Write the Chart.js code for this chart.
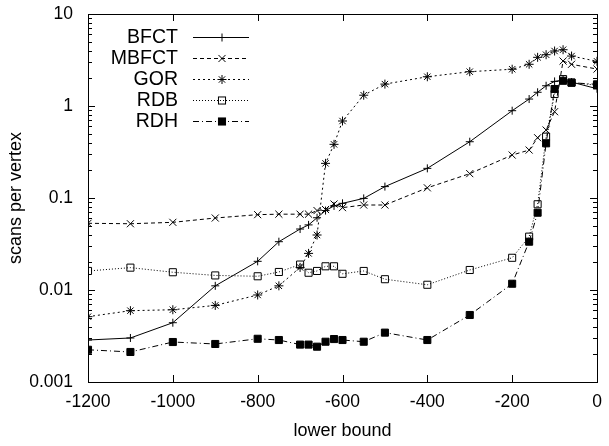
<!DOCTYPE html>
<html>
<head>
<meta charset="utf-8">
<script src="https://cdn.jsdelivr.net/npm/chart.js@4.4.0/dist/chart.umd.min.js"></script>
<style>
  body { margin: 0; background: #fff; }
  canvas { display: block; }
</style>
</head>
<body>
<canvas id="chart" width="609" height="446"></canvas>
<script>
// x positions shared by every series
const lowerBounds = [-1200, -1100, -1000, -900, -800, -750, -700, -680, -660, -640, -620, -600,
  -550, -500, -400, -300, -200, -160, -140, -120, -100, -80, -60, 0]

const bfct = [0.00286, 0.00301, 0.00441, 0.0111, 0.0205, 0.0335, 0.046, 0.051, 0.061, 0.073, 0.082, 0.0875,
  0.099, 0.133, 0.21, 0.409, 0.889, 1.19, 1.41, 1.66, 1.85, 1.92, 1.82, 1.54]
const mbfct = [0.0531, 0.0525, 0.0544, 0.0606, 0.0659, 0.0667, 0.0667, 0.0667, 0.073, 0.075, 0.086, 0.0786,
  0.0839, 0.0839, 0.129, 0.184, 0.293, 0.332, 0.452, 0.548, 0.867, 3.08, 2.84, 2.52]
const gor = [0.00513, 0.00596, 0.0061, 0.0068, 0.00883, 0.0111, 0.0176, 0.025, 0.0396, 0.238, 0.383, 0.687,
  1.31, 1.73, 2.08, 2.36, 2.51, 2.84, 3.38, 3.61, 3.96, 4.09, 3.49, 3.06]
const rdb = [0.0161, 0.0175, 0.0156, 0.0144, 0.0141, 0.0157, 0.0189, 0.0154, 0.0161, 0.0181, 0.0181, 0.015,
  0.0161, 0.0131, 0.0114, 0.0165, 0.0224, 0.038, 0.0855, 0.464, 1.35, 1.96, 1.8, 1.68]
const rdh = [0.00224, 0.00212, 0.00272, 0.00259, 0.00295, 0.00286, 0.00255, 0.00255, 0.00242, 0.00274, 0.00293, 0.00286,
  0.00274, 0.00344, 0.00286, 0.00535, 0.0117, 0.0335, 0.0692, 0.393, 1.53, 1.88, 1.79, 1.72]

const xTicks = [-1200, -1000, -800, -600, -400, -200, 0]
const yTicks = [0.001, 0.01, 0.1, 1, 10]
const yTickLabels = ["0.001", "0.01", "0.1", "1", "10"]

const FONT = "'Liberation Sans', Arial, Helvetica, sans-serif"

function series(label, values, dash, style, radius, fill) {
  return {
    label: label,
    data: lowerBounds.map((x, i) => ({ x: x, y: values[i] })),
    borderColor: "#000",
    borderWidth: 1,
    borderDash: dash,
    pointStyle: style,
    pointRadius: radius,
    pointBorderColor: "#000",
    pointBorderWidth: 1,
    pointBackgroundColor: fill,
    tension: 0
  }
}

const datasets = [
  series("BFCT", bfct, [], "cross", 4, "#000"),
  series("MBFCT", mbfct, [4, 3], "crossRot", 5, "#000"),
  series("GOR", gor, [2, 3], "star", 4.5, "#000"),
  series("RDB", rdb, [1, 2], "rect", 5, "rgba(0,0,0,0)"),
  series("RDH", rdh, [6, 3, 1, 3], "rect", 5, "#000")
]

// small marker painter for the legend samples
function drawMarker(ctx, style, x, y, r, fill) {
  ctx.save()
  ctx.setLineDash([])
  ctx.strokeStyle = "#000"
  ctx.lineWidth = 1
  ctx.beginPath()
  if (style === "cross" || style === "star") {
    ctx.moveTo(x - r, y); ctx.lineTo(x + r, y)
    ctx.moveTo(x, y - r); ctx.lineTo(x, y + r)
  }
  if (style === "crossRot" || style === "star") {
    const d = r * Math.SQRT1_2
    ctx.moveTo(x - d, y - d); ctx.lineTo(x + d, y + d)
    ctx.moveTo(x - d, y + d); ctx.lineTo(x + d, y - d)
  }
  ctx.stroke()
  if (style === "rect") {
    const s = r * Math.SQRT1_2
    if (fill !== "rgba(0,0,0,0)") {
      ctx.fillStyle = fill
      ctx.fillRect(x - s, y - s, 2 * s, 2 * s)
    }
    ctx.strokeRect(x - s, y - s, 2 * s, 2 * s)
  }
  ctx.restore()
}

// frame and inward gnuplot-style ticks
const framePlugin = {
  id: "frame",
  beforeDatasetsDraw(chart) {
    const ctx = chart.ctx
    const a = chart.chartArea
    const xs = chart.scales.x
    const ys = chart.scales.y
    ctx.save()
    ctx.strokeStyle = "#000"
    ctx.lineWidth = 1
    ctx.beginPath()
    xTicks.forEach((v) => {
      const px = Math.round(xs.getPixelForValue(v)) + 0.5
      ctx.moveTo(px, a.bottom); ctx.lineTo(px, a.bottom - 7)
      ctx.moveTo(px, a.top); ctx.lineTo(px, a.top + 7)
    })
    for (let e = -3; e <= 0; e++) {
      for (let m = 1; m <= 9; m++) {
        const v = m * Math.pow(10, e)
        const py = Math.round(ys.getPixelForValue(v)) + 0.5
        const len = m === 1 ? 7 : 4
        ctx.moveTo(a.left, py); ctx.lineTo(a.left + len, py)
        ctx.moveTo(a.right, py); ctx.lineTo(a.right - len, py)
      }
    }
    const pyTop = Math.round(ys.getPixelForValue(10)) + 0.5
    ctx.moveTo(a.left, pyTop); ctx.lineTo(a.left + 7, pyTop)
    ctx.moveTo(a.right, pyTop); ctx.lineTo(a.right - 7, pyTop)
    ctx.stroke()
    ctx.strokeRect(Math.round(a.left) + 0.5, Math.round(a.top) + 0.5,
      Math.round(a.right - a.left), Math.round(a.bottom - a.top))
    ctx.restore()
  }
}

const legendPlugin = {
  id: "sampleLegend",
  afterDatasetsDraw(chart) {
    const ctx = chart.ctx
    ctx.save()
    ctx.font = "19.5px " + FONT
    ctx.textAlign = "right"
    ctx.textBaseline = "middle"
    chart.data.datasets.forEach((ds, i) => {
      const y = 37 + i * 21
      ctx.fillStyle = "#000"
      ctx.fillText(ds.label, 178, y + 1)
      ctx.strokeStyle = "#000"
      ctx.lineWidth = 1
      ctx.setLineDash(ds.borderDash)
      ctx.beginPath()
      ctx.moveTo(193, y + 0.5)
      ctx.lineTo(249, y + 0.5)
      ctx.stroke()
      drawMarker(ctx, ds.pointStyle, 222, y + 0.5, ds.pointRadius, ds.pointBackgroundColor)
    })
    ctx.restore()
  }
}

new Chart(document.getElementById("chart"), {
  type: "line",
  data: { datasets: datasets },
  plugins: [framePlugin, legendPlugin],
  options: {
    responsive: false,
    animation: false,
    layout: { padding: { top: 14, right: 12, left: 0, bottom: 0 } },
    plugins: { legend: { display: false }, tooltip: { enabled: false } },
    scales: {
      x: {
        type: "linear",
        min: -1200,
        max: 0,
        afterBuildTicks: (scale) => { scale.ticks = xTicks.map((v) => ({ value: v })) },
        afterFit: (scale) => {
          scale.height = 64
          scale.paddingLeft = 0
          scale.paddingRight = 0
        },
        grid: { display: false, drawTicks: false },
        border: { display: false },
        ticks: { color: "#000", font: { family: FONT, size: 17.5 }, padding: 10, maxRotation: 0, callback: (v) => String(v) },
        title: { display: true, text: "lower bound", color: "#000", font: { family: FONT, size: 18 }, padding: { top: 0, bottom: 4 } }
      },
      y: {
        type: "logarithmic",
        min: 0.001,
        max: 10,
        afterBuildTicks: (scale) => { scale.ticks = yTicks.map((v) => ({ value: v })) },
        afterFit: (scale) => {
          scale.width = 88
          scale.paddingTop = 0
          scale.paddingBottom = 0
        },
        grid: { display: false, drawTicks: false },
        border: { display: false },
        ticks: {
          color: "#000",
          font: { family: FONT, size: 17.5 },
          padding: 15,
          callback: (v) => {
            const i = yTicks.indexOf(v)
            return i >= 0 ? yTickLabels[i] : ""
          }
        },
        title: { display: true, text: "scans per vertex", color: "#000", font: { family: FONT, size: 18 }, padding: { top: 5, bottom: 0 } }
      }
    }
  }
})
</script>
</body>
</html>
